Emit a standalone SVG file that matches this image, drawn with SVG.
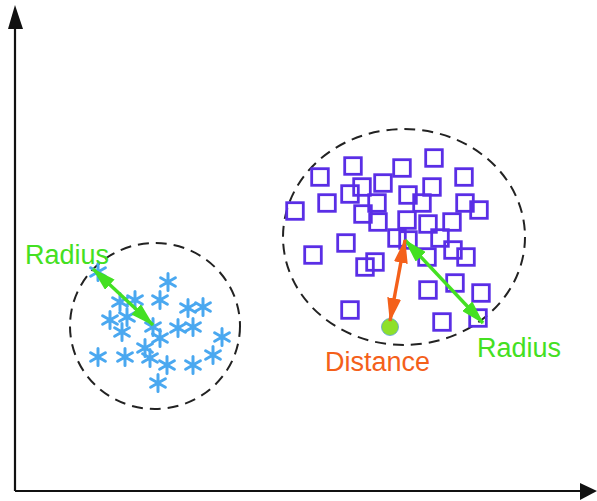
<svg xmlns="http://www.w3.org/2000/svg" xmlns:xlink="http://www.w3.org/1999/xlink" width="597" height="501" viewBox="0 0 597 501">
<style>
.axis{stroke:#111;stroke-width:2.2;fill:none}
.ring{fill:none;stroke:#222;stroke-width:2;stroke-dasharray:11 7}
.sq{fill:none;stroke:#5a2ee6;stroke-width:2.8}
.ast{stroke:#4aa8f0;stroke-width:3;stroke-linecap:round;fill:none}
.lbl{font-family:"Liberation Sans",Arial,sans-serif;font-size:27px}
.g{fill:#44e022}
.o{fill:#f4601a}
</style>
<defs>
<marker id="mg" viewBox="0 0 24 14" refX="23" refY="7" markerWidth="24" markerHeight="14" markerUnits="userSpaceOnUse" orient="auto-start-reverse"><path d="M0,0 L24,7 L0,14 Z" fill="#44e022"/></marker>
<marker id="mo" viewBox="0 0 24 14" refX="23" refY="7" markerWidth="24" markerHeight="14" markerUnits="userSpaceOnUse" orient="auto-start-reverse"><path d="M0,0 L24,7 L0,14 Z" fill="#f4601a"/></marker>
<g id="a"><path class="ast" d="M0,-8.5V8.5M-7.4,-4.25L7.4,4.25M-7.4,4.25L7.4,-4.25"/></g>
<rect id="s" class="sq" x="-8.3" y="-8.3" width="16.6" height="16.6"/>
</defs>
<g id="axes">
<path class="axis" d="M15,491V28M15,491H580"/>
<path d="M8,29L15,5L23,29Z" fill="#111"/>
<path d="M580,483L597,491L580,500Z" fill="#111"/>
</g>
<g id="cluster-left">
<ellipse class="ring" cx="155" cy="326" rx="85" ry="83"/>
<use href="#a" x="98" y="272"/><use href="#a" x="168" y="282"/><use href="#a" x="120" y="302"/><use href="#a" x="135" y="300"/><use href="#a" x="160" y="300"/><use href="#a" x="188" y="308"/><use href="#a" x="203" y="307"/><use href="#a" x="110" y="320"/><use href="#a" x="127" y="317"/><use href="#a" x="122" y="332"/><use href="#a" x="153" y="327"/><use href="#a" x="178" y="328"/><use href="#a" x="193" y="327"/><use href="#a" x="160" y="338"/><use href="#a" x="222" y="337"/><use href="#a" x="145" y="348"/><use href="#a" x="98" y="357"/><use href="#a" x="125" y="357"/><use href="#a" x="150" y="358"/><use href="#a" x="167" y="365"/><use href="#a" x="193" y="365"/><use href="#a" x="213" y="355"/><use href="#a" x="158" y="383"/>
</g>
<g id="cluster-right">
<ellipse class="ring" cx="404" cy="237" rx="121" ry="108"/>
<use href="#s" x="295" y="211"/><use href="#s" x="320" y="177"/><use href="#s" x="353" y="166"/><use href="#s" x="327" y="203"/><use href="#s" x="350" y="194"/><use href="#s" x="362" y="187"/><use href="#s" x="383" y="183"/><use href="#s" x="402" y="168"/><use href="#s" x="434" y="158"/><use href="#s" x="464" y="177"/><use href="#s" x="432" y="187"/><use href="#s" x="408" y="195"/><use href="#s" x="377" y="203"/><use href="#s" x="422" y="203"/><use href="#s" x="465" y="203"/><use href="#s" x="479" y="210"/><use href="#s" x="363" y="214"/><use href="#s" x="378" y="222"/><use href="#s" x="407" y="220"/><use href="#s" x="428" y="224"/><use href="#s" x="452" y="222"/><use href="#s" x="346" y="243"/><use href="#s" x="397" y="238"/><use href="#s" x="408" y="240"/><use href="#s" x="440" y="238"/><use href="#s" x="313" y="255"/><use href="#s" x="375" y="262"/><use href="#s" x="365" y="267"/><use href="#s" x="427" y="257"/><use href="#s" x="453" y="250"/><use href="#s" x="466" y="257"/><use href="#s" x="428" y="290"/><use href="#s" x="455" y="283"/><use href="#s" x="481" y="293"/><use href="#s" x="350" y="310"/><use href="#s" x="442" y="322"/><use href="#s" x="478" y="318"/>
</g>
<g id="point">
<circle cx="390" cy="327" r="8.5" fill="#8ee02a" stroke="#5aa0d8" stroke-width="0.8"/>
</g>
<g id="connectors">
<line x1="93" y1="269" x2="153" y2="325" stroke="#44e022" stroke-width="3.4" marker-start="url(#mg)" marker-end="url(#mg)"/>
<line x1="405" y1="240" x2="483" y2="323" stroke="#44e022" stroke-width="3.4" marker-start="url(#mg)" marker-end="url(#mg)"/>
<line x1="405" y1="240" x2="390" y2="321" stroke="#f4601a" stroke-width="3.4" marker-start="url(#mo)" marker-end="url(#mo)"/>
</g>
<g id="labels">
<text class="lbl g" x="25" y="264">Radius</text>
<text class="lbl g" x="477" y="357">Radius</text>
<text class="lbl o" x="325" y="371">Distance</text>
</g>
</svg>
